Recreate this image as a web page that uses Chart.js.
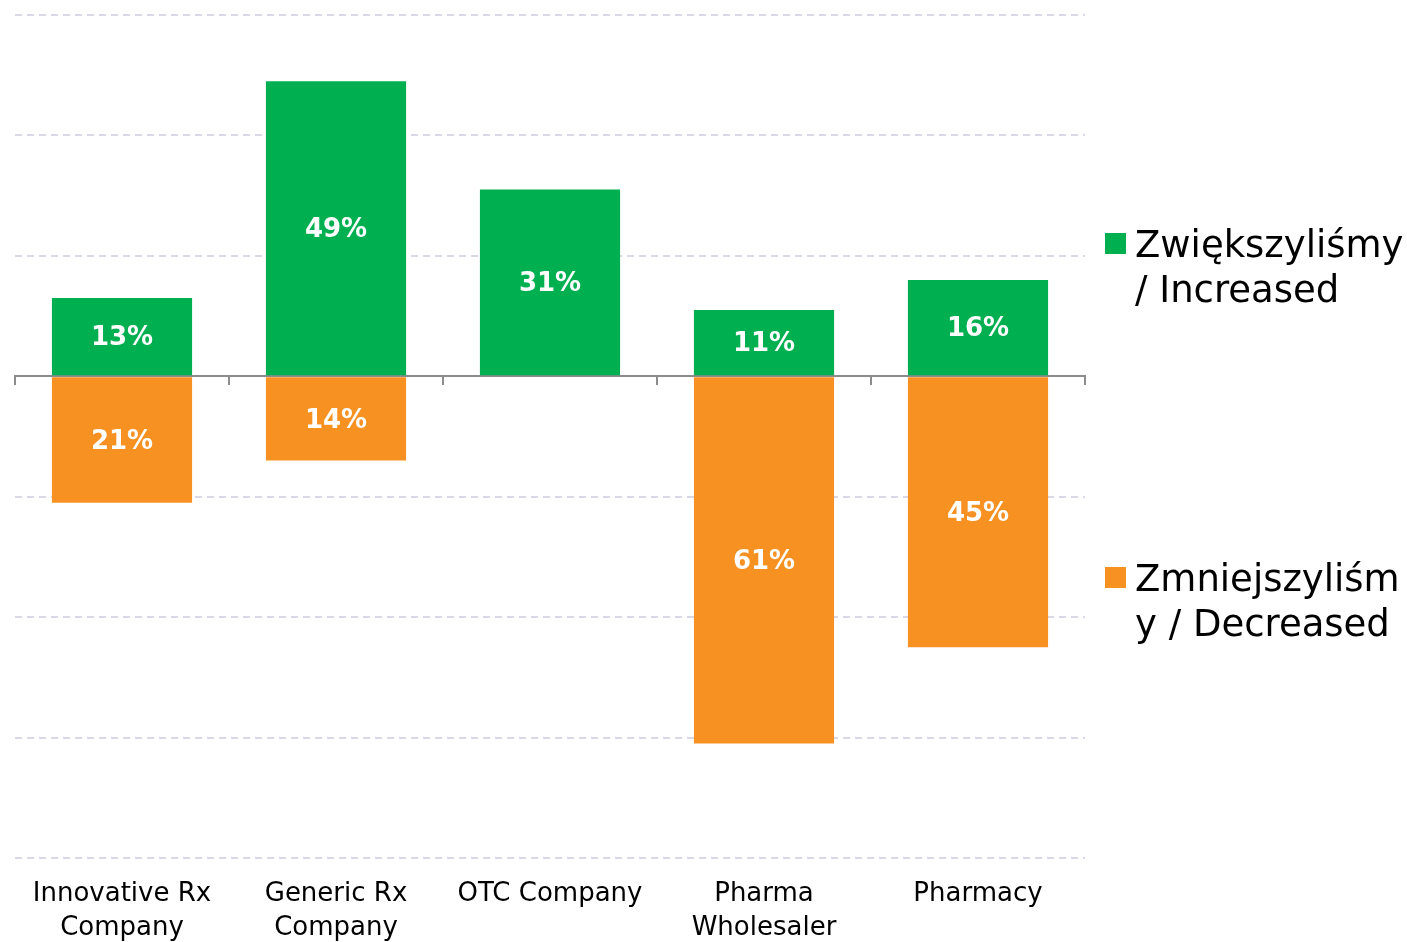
<!DOCTYPE html>
<html>
<head>
<meta charset="utf-8">
<script src="https://cdn.jsdelivr.net/npm/chart.js@4.4.0/dist/chart.umd.min.js"></script>
<style>
  html, body { margin: 0; padding: 0; background: #fff; }
  #wrap { position: relative; width: 1407px; height: 942px; overflow: hidden; }
  #chart { position: absolute; left: 0; top: 0; }
  .leg { position: absolute; left: 1105px; font-family: "DejaVu Sans", Verdana, sans-serif;
         font-size: 37px; line-height: 45px; color: #000; white-space: nowrap; }
  .leg .box { position: absolute; left: 0; top: 11px; width: 21px; height: 21px; }
  .leg .txt { margin-left: 30px; }
</style>
</head>
<body>
<div id="wrap">
  <canvas id="chart" width="1407" height="942"></canvas>
  <div class="leg" style="top:222px"><span class="box" style="background:#00b050"></span><div class="txt">Zwiększyliśmy<br>/ Increased</div></div>
  <div class="leg" style="top:556px"><span class="box" style="background:#f79122"></span><div class="txt">Zmniejszyliśm<br>y / Decreased</div></div>
</div>
<script>
// dane z wykresu
const kategorie = [['Innovative Rx', 'Company'], ['Generic Rx', 'Company'], 'OTC Company', ['Pharma', 'Wholesaler'], 'Pharmacy'];
const zwiekszylismy = [13, 49, 31, 11, 16];
const zmniejszylismy = [-21, -14, 0, -61, -45];
const osY = { min: -80, max: 60, krok: 20 };

const kolorZielony = '#00b050';
const kolorPomaranczowy = '#f79122';

// etykiety wartości w środku słupków
const etykietyPlugin = {
    id: 'etykiety',
    afterDatasetsDraw(chart) {
        const ctx = chart.ctx;
        ctx.save();
        ctx.font = 'bold 26px "DejaVu Sans", Verdana, sans-serif';
        ctx.fillStyle = '#fff';
        ctx.textAlign = 'center';
        ctx.textBaseline = 'middle';
        chart.data.datasets.forEach((ds, i) => {
            chart.getDatasetMeta(i).data.forEach((bar, j) => {
                const v = ds.data[j];
                if (!v) return;
                const yc = (bar.y + bar.base) / 2;
                ctx.fillText(Math.abs(v) + '%', bar.x, yc + 2);
            });
        });
        ctx.restore();
    }
};

new Chart(document.getElementById('chart'), {
    type: 'bar',
    data: {
        labels: kategorie,
        datasets: [
            { label: 'Zwiększyliśmy / Increased', data: zwiekszylismy, backgroundColor: kolorZielony },
            { label: 'Zmniejszyliśmy / Decreased', data: zmniejszylismy, backgroundColor: kolorPomaranczowy }
        ]
    },
    options: {
        responsive: false,
        animation: false,
        layout: { padding: { top: 15, right: 322, left: 0, bottom: 0 } },
        datasets: { bar: { categoryPercentage: 1, barPercentage: 0.655 } },
        plugins: { legend: { display: false }, tooltip: { enabled: false } },
        scales: {
            x: {
                stacked: true,
                grid: { display: false, drawTicks: false },
                border: { display: false },
                ticks: {
                    color: '#000',
                    padding: 20,
                    maxRotation: 0,
                    autoSkip: false,
                    font: { family: '"DejaVu Sans", Verdana, sans-serif', size: 26, lineHeight: 1.28 }
                },
                afterFit: (s) => { s.height = 84; }
            },
            x2: {
                type: 'category',
                labels: kategorie,
                position: { y: 0 },
                grid: { offset: true, drawOnChartArea: false, tickLength: 8, color: '#8c8c8c', lineWidth: 2 },
                border: { color: '#8c8c8c', width: 2 },
                ticks: { display: false }
            },
            y: {
                stacked: true,
                min: osY.min,
                max: osY.max,
                ticks: { display: false, stepSize: osY.krok },
                grid: {
                    drawTicks: false,
                    color: (c) => c.tick && c.tick.value === 0 ? 'rgba(0,0,0,0)' : '#d8d8e6',
                    lineWidth: 2
                },
                border: { display: false, dash: [7, 5] },
                afterFit: (s) => { s.width = 15; }
            }
        }
    },
    plugins: [etykietyPlugin]
});
</script>
</body>
</html>
